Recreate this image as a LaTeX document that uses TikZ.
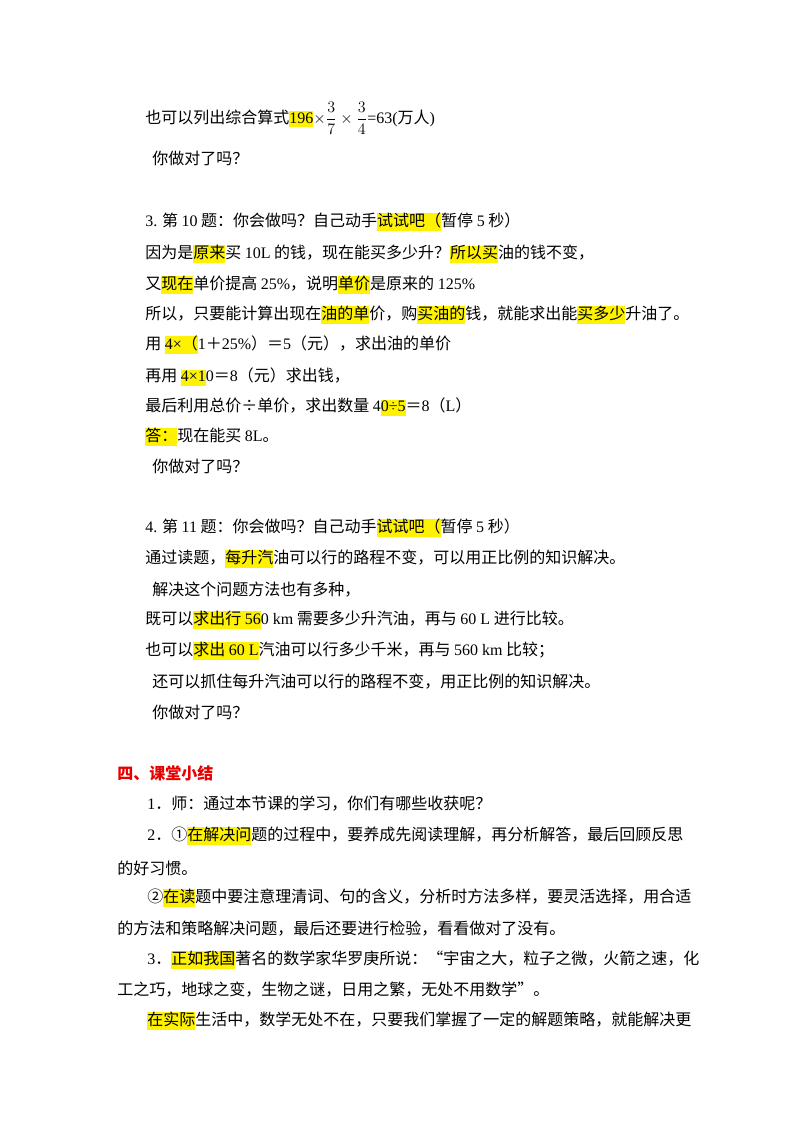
\documentclass[tikz,border=0pt]{standalone}
\usepackage{fontspec}
\setmainfont{Noto Sans CJK SC}
\newfontfamily\lt{Liberation Serif}
\newcommand\hl[1]{{\setlength{\fboxsep}{0pt}\colorbox{yellow}{\vphantom{Ag}#1}}}
\newcommand\tl[1]{{\lt #1}}
\definecolor{redh}{RGB}{230,0,0}
\begin{document}
\begin{tikzpicture}[x=0.75pt,y=-0.75pt,
  ln/.style={anchor=west,inner sep=0pt,font=\fontsize{12}{14}\selectfont}]
\useasboundingbox (0,0) rectangle (800,1132);
\node[ln] (l1) at (145,118) {也可以列出综合算式\hl{\tl{196}}$\displaystyle\times\frac{3}{7}\times\frac{3}{4}$\tl{=63(}万人\tl{)}};
\node[ln] (l2) at (152,158) {你做对了吗？};
\node[ln] (l3) at (145,222) {\tl{3.} 第 \tl{10} 题：你会做吗？自己动手\hl{试试吧（}暂停 \tl{5} 秒）};
\node[ln] (l4) at (145,254) {因为是\hl{原来}买 \tl{10L} 的钱，现在能买多少升？\hl{所以买}油的钱不变，};
\node[ln] (l5) at (145,285) {又\hl{现在}单价提高 \tl{25\%}，说明\hl{单价}是原来的 \tl{125\%}};
\node[ln] (l6) at (145,315) {所以，只要能计算出现在\hl{油的单}价，购\hl{买油的}钱，就能求出能\hl{买多少}升油了。};
\node[ln] (l7) at (145,345) {用 \hl{\tl{4×}（}\tl{1}＋\tl{25\%}）＝\tl{5}（元），求出油的单价};
\node[ln] (l8) at (145,377) {再用 \hl{\tl{4×1}}\tl{0}＝\tl{8}（元）求出钱，};
\node[ln] (l9) at (145,407) {最后利用总价÷单价，求出数量 \tl{4}\hl{\tl{0÷5}}＝\tl{8}（\tl{L}）};
\node[ln] (l10) at (145,437) {\hl{答：}现在能买 \tl{8L}。};
\node[ln] (l11) at (152,466) {你做对了吗？};
\node[ln] (l12) at (145,528) {\tl{4.} 第 \tl{11} 题：你会做吗？自己动手\hl{试试吧（}暂停 \tl{5} 秒）};
\node[ln] (l13) at (145,559) {通过读题，\hl{每升汽}油可以行的路程不变，可以用正比例的知识解决。};
\node[ln] (l14) at (152,590) {解决这个问题方法也有多种，};
\node[ln] (l15) at (145,620) {既可以\hl{求出行 \tl{56}}\tl{0 km} 需要多少升汽油，再与 \tl{60 L} 进行比较。};
\node[ln] (l16) at (145,651) {也可以\hl{求出 \tl{60 L}}汽油可以行多少千米，再与 \tl{560 km} 比较；};
\node[ln] (l17) at (152,682) {还可以抓住每升汽油可以行的路程不变，用正比例的知识解决。};
\node[ln] (l18) at (152,712) {你做对了吗？};
\node[ln,text=redh,font=\fontsize{12}{14}\selectfont\bfseries] (h) at (117,773) {四、课堂小结};
\node[ln] (s1) at (147,804) {\tl{1}．师：通过本节课的学习，你们有哪些收获呢？};
\node[ln] (s2) at (147,836) {\tl{2}．①\hl{在解决问}题的过程中，要养成先阅读理解，再分析解答，最后回顾反思};
\node[ln] (s3) at (117,868) {的好习惯。};
\node[ln] (s4) at (147,898) {②\hl{在读}题中要注意理清词、句的含义，分析时方法多样，要灵活选择，用合适};
\node[ln] (s5) at (117,929) {的方法和策略解决问题，最后还要进行检验，看看做对了没有。};
\node[ln] (s6) at (147,960) {\tl{3}．\hl{正如我国}著名的数学家华罗庚所说：“宇宙之大，粒子之微，火箭之速，化};
\node[ln] (s7) at (117,990) {工之巧，地球之变，生物之谜，日用之繁，无处不用数学”。};
\node[ln] (s8) at (147,1021) {\hl{在实际}生活中，数学无处不在，只要我们掌握了一定的解题策略，就能解决更};
\end{tikzpicture}
\end{document}
